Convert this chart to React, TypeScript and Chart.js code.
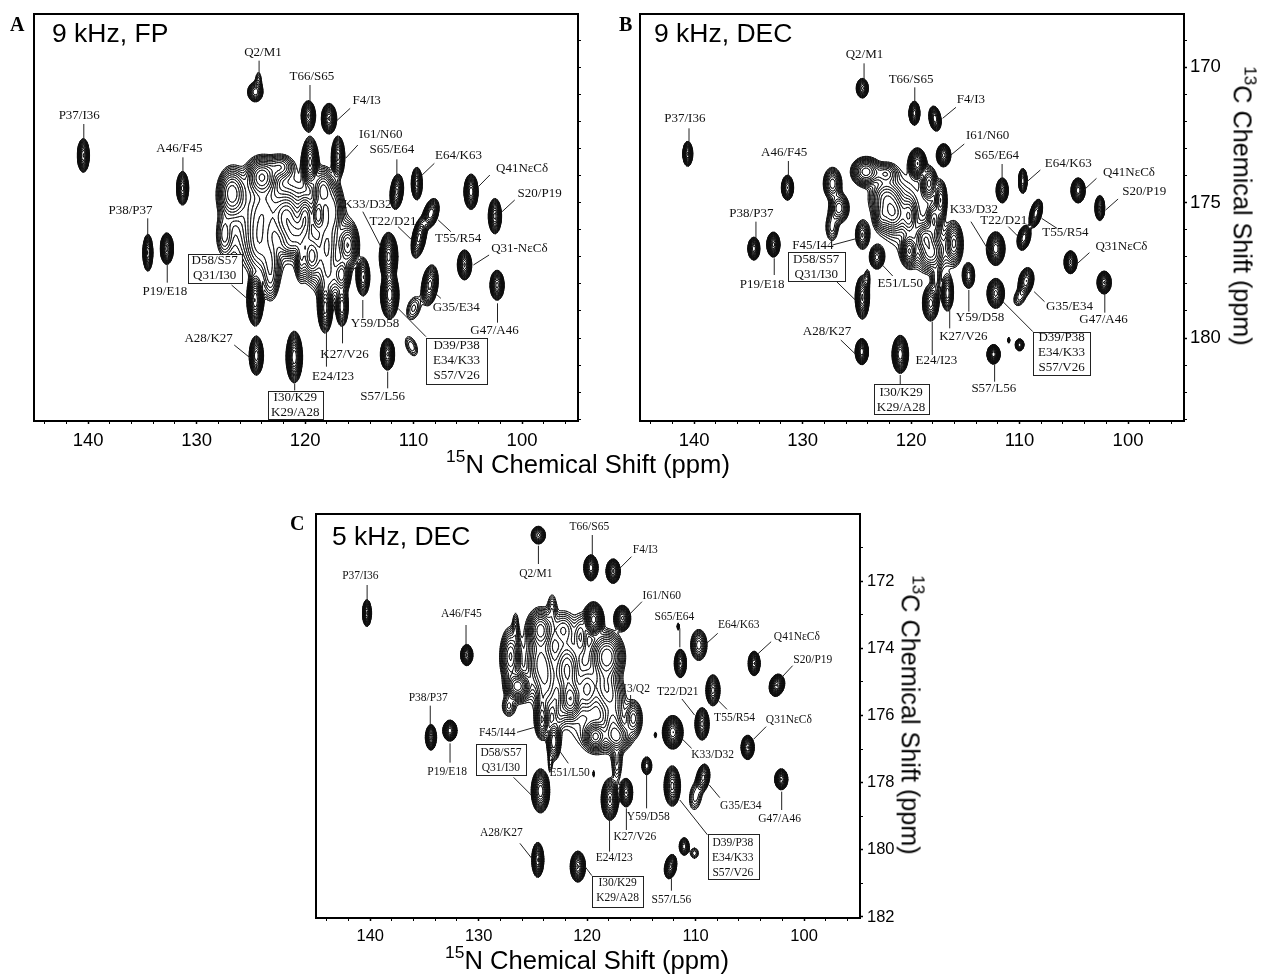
import React, { useEffect, useRef } from "react";
import { Chart, registerables } from "chart.js";

Chart.register(...registerables);

// Peak lists: [15N ppm, 13C ppm, half width N, half width C, height, slant]
type Peak = [number, number, number, number, number, number?];

const peaksA: Peak[] = [
  [124.6, 170.92, 0.7, 0.36, 7], [124.3, 170.5, 0.25, 0.3, 2],
  [119.7, 171.8, 0.65, 0.56, 14], [117.8, 171.9, 0.7, 0.56, 14],
  [140.45, 173.26, 0.55, 0.62, 14], [131.3, 174.47, 0.55, 0.62, 12],
  [116.96, 173.3, 0.6, 0.75, 12], [119.54, 173.49, 0.75, 0.9, 14],
  [111.55, 174.6, 0.6, 0.65, 12, 0.2], [109.7, 174.3, 0.5, 0.6, 10],
  [104.7, 174.6, 0.65, 0.65, 16], [102.5, 175.5, 0.6, 0.65, 12],
  [108.4, 175.4, 0.7, 0.55, 9, 0.5], [109.5, 176.3, 0.65, 0.75, 10, 0.4],
  [105.3, 177.3, 0.65, 0.55, 14], [102.3, 178.05, 0.65, 0.55, 12],
  [134.5, 176.85, 0.45, 0.68, 14], [132.75, 176.7, 0.6, 0.58, 18],
  [112.3, 177, 0.85, 0.9, 22], [112.2, 178.4, 0.85, 0.9, 16],
  [108.5, 178.05, 0.75, 0.75, 10, 0.25], [110, 178.9, 0.6, 0.42, 2.4, 0.5],
  [114.65, 177.75, 0.6, 0.68, 9], [124.5, 180.65, 0.65, 0.72, 13],
  [121, 180.7, 0.75, 0.95, 20], [112.4, 180.6, 0.65, 0.58, 14],
  [110.2, 180.3, 0.5, 0.35, 2.2, -0.7], [124.6, 178.6, 0.75, 0.95, 20],
  [118.15, 178.9, 0.65, 0.9, 12], [116.6, 178.85, 0.55, 0.7, 7],
  [126.76, 174.66, 1.38, 0.98, 8], [127.47, 176.2, 0.6, 0.65, 2.5],
  [124, 174.05, 1.5, 0.75, 10], [122.3, 173.68, 1.1, 0.4, 4],
  [123.84, 175.28, 1.3, 0.9, 3], [124.3, 176.5, 1.0, 1.0, 3.5],
  [123.2, 177.25, 0.8, 0.9, 3.5], [123.2, 178, 0.5, 0.5, 2],
  [121.7, 175.52, 1.2, 0.8, 6], [120.8, 176.13, 1.5, 0.6, 6],
  [120, 175.52, 0.7, 0.7, 6], [121.4, 176.6, 0.9, 0.3, 2.5],
  [118.34, 174.54, 1.0, 0.8, 7], [118.8, 175.46, 0.6, 0.6, 8],
  [117.4, 175.28, 0.8, 1.0, 5], [118, 176.63, 0.9, 1.1, 5],
  [116.04, 176.57, 0.95, 0.8, 8], [119.4, 177, 0.9, 0.8, 8],
  [120.4, 177.05, 0.4, 0.7, 4], [116.6, 177.67, 0.7, 0.6, 7],
  [117.8, 177.75, 1.0, 0.7, 3.5],
  [121.5, 175.5, 2.7, 1.4, 1.8], [118, 176.6, 1.9, 1.5, 2], [125, 175.8, 1.6, 1.2, 1.6],
];

const peaksB: Peak[] = [
  [124.5, 170.78, 0.55, 0.36, 8], [119.7, 171.7, 0.5, 0.44, 13],
  [117.8, 171.9, 0.55, 0.46, 11, -0.3], [140.6, 173.2, 0.45, 0.46, 12],
  [117, 173.25, 0.65, 0.42, 12], [119.42, 173.55, 0.8, 0.55, 16],
  [131.4, 174.45, 0.55, 0.46, 11], [111.6, 174.55, 0.55, 0.46, 12],
  [109.7, 174.2, 0.4, 0.46, 9], [104.6, 174.55, 0.65, 0.46, 16],
  [102.6, 175.2, 0.45, 0.46, 12], [108.5, 175.4, 0.55, 0.52, 11, 0.5],
  [109.6, 176.3, 0.6, 0.46, 11, 0.4], [112.2, 176.7, 0.85, 0.62, 16],
  [112.2, 178.35, 0.8, 0.55, 12], [109.4, 177.9, 0.7, 0.5, 9, 0.3],
  [110, 178.5, 0.5, 0.3, 2.4, 0.5], [114.7, 177.7, 0.55, 0.46, 7],
  [105.3, 177.2, 0.6, 0.42, 14], [102.2, 177.95, 0.65, 0.42, 14],
  [134.5, 176.7, 0.55, 0.42, 13], [132.7, 176.55, 0.6, 0.46, 18],
  [124.55, 180.5, 0.6, 0.48, 20], [121, 180.6, 0.75, 0.7, 20],
  [112.4, 180.6, 0.6, 0.36, 20], [110, 180.25, 0.4, 0.22, 6],
  [111, 180.08, 0.08, 0.1, 3], [124.5, 178.5, 0.65, 0.8, 14],
  [124.03, 177.8, 0.2, 0.3, 2], [118.2, 178.72, 0.75, 0.65, 10],
  [116.65, 178.35, 0.55, 0.65, 7], [117.7, 177.86, 0.35, 0.5, 2.5],
  [127.25, 174.3, 0.85, 0.6, 7], [126.64, 175.2, 0.9, 0.55, 7],
  [127.3, 175.9, 0.55, 0.5, 3], [124.5, 176.2, 0.6, 0.5, 6],
  [123.16, 177.02, 0.65, 0.42, 8], [124.18, 173.86, 1.4, 0.55, 10],
  [122.33, 173.93, 0.95, 0.35, 4], [122.33, 174.8, 1.3, 0.6, 5],
  [121.72, 175.4, 1.3, 0.7, 7], [122.8, 175.5, 0.5, 0.4, 3],
  [120.18, 175.5, 0.6, 0.6, 4], [118.34, 174.29, 0.7, 0.6, 6],
  [117.26, 174.9, 0.55, 0.7, 7], [117.9, 175.65, 0.6, 0.6, 5],
  [118.7, 176.3, 0.9, 0.5, 6], [120.18, 176.8, 0.7, 0.55, 8],
  [118.2, 176.85, 1.1, 0.6, 6], [116.04, 176.5, 0.75, 0.75, 7],
  [121, 175.2, 2.2, 1.2, 1.8], [118, 176.7, 1.9, 0.8, 2],
];

const peaksC: Peak[] = [
  [124.5, 170.63, 0.65, 0.26, 8], [119.65, 171.6, 0.65, 0.38, 16],
  [117.6, 171.7, 0.65, 0.36, 14], [140.3, 172.95, 0.4, 0.4, 12],
  [116.75, 173.1, 0.75, 0.37, 14], [119.4, 173.14, 0.9, 0.5, 18],
  [131.1, 174.2, 0.55, 0.31, 14], [111.4, 174.45, 0.55, 0.42, 14],
  [111.6, 173.35, 0.1, 0.1, 3], [109.7, 173.9, 0.75, 0.46, 7],
  [104.6, 174.45, 0.55, 0.36, 14], [102.5, 175.1, 0.7, 0.33, 14, 0.4],
  [108.4, 175.25, 0.65, 0.46, 10], [109.4, 176.25, 0.65, 0.48, 12],
  [112.1, 176.5, 0.95, 0.5, 20], [105.2, 176.95, 0.6, 0.36, 14],
  [102.1, 177.9, 0.6, 0.31, 14], [114.5, 177.5, 0.45, 0.26, 6],
  [112.15, 178.1, 0.75, 0.6, 12], [109.3, 177.85, 0.6, 0.4, 8, 0.3],
  [110, 178.4, 0.55, 0.4, 2.6, 0.3], [124.55, 180.3, 0.55, 0.52, 14],
  [120.85, 180.5, 0.7, 0.46, 14], [112.3, 180.5, 0.55, 0.36, 12, 0.4],
  [111.05, 179.9, 0.45, 0.26, 6], [110.1, 180.1, 0.35, 0.15, 2.2],
  [124.3, 178.25, 0.85, 0.65, 16], [117.9, 178.5, 0.8, 0.62, 14],
  [116.4, 178.3, 0.6, 0.42, 11], [134.4, 176.65, 0.5, 0.38, 15],
  [132.65, 176.45, 0.65, 0.31, 16], [127.07, 174.24, 0.9, 0.8, 7],
  [126.4, 175.13, 1.2, 0.45, 12], [127.23, 175.73, 0.5, 0.25, 2.5],
  [126.6, 173.39, 0.2, 0.35, 2], [124.3, 173.44, 1.2, 0.6, 9],
  [123.23, 172.85, 0.3, 0.35, 2], [124.3, 174.44, 1.1, 0.8, 5],
  [123.7, 175.13, 0.8, 0.7, 3], [121.85, 174.64, 1.1, 0.8, 6],
  [122.2, 173.44, 0.9, 0.4, 3], [121.55, 175.53, 1.0, 0.6, 9],
  [120, 175.23, 0.9, 0.6, 4], [120.6, 173.64, 0.5, 0.5, 3],
  [118.16, 174.24, 1.6, 0.75, 10], [118.35, 175.13, 1.0, 0.6, 4],
  [117.6, 175.53, 1.0, 0.6, 3], [119.24, 176.63, 1.0, 0.4, 8],
  [117.25, 176.63, 1.2, 0.4, 6], [117.6, 176.24, 0.7, 0.4, 3],
  [115.72, 176.08, 0.75, 0.5, 5], [117.25, 177.42, 0.4, 0.5, 2.5],
  [124.15, 176.18, 0.6, 0.5, 6], [123.08, 176.78, 0.6, 0.55, 7],
  [123.4, 177.4, 0.15, 0.25, 1.8], [113.72, 176.58, 0.08, 0.08, 3],
  [119.4, 177.74, 0.06, 0.08, 1.8], [124.2, 175.7, 0.3, 0.4, 2],
  [122.5, 175.92, 0.4, 0.3, 2],
  [122.5, 174.6, 3.4, 1.3, 1.8], [118.5, 176.5, 2.0, 0.55, 1.8],
];

// Contour levels: each step multiplies the previous one
const contourLevels = [1, 1.22, 1.49, 1.82, 2.22, 2.7, 3.3, 4.03, 4.91, 5.99, 7.3, 8.91, 10.87, 13.26, 16.18, 19.74];

const xTicks = [96, 98, 100, 102, 104, 106, 108, 110, 112, 114, 116, 118, 120, 122, 124, 126, 128, 130, 132, 134, 136, 138, 140, 142, 144];
const yTicksAB = [169, 170, 171, 172, 173, 174, 175, 176, 177, 178, 179, 180, 181, 182, 183];
const yTicksC = [171, 172, 173, 174, 175, 176, 177, 178, 179, 180, 181, 182];

// Annotation layout, in units of the panel's layout grid
type Note = [string, number, number, number, number, number, number];
type Box = [string[], number, number, number, number, number[], number, number, number, number];

const notesA: Note[] = [
  ["Q2/M1", 687, 157, 677, 182, 677, 232], ["T66/S65", 815, 230, 810, 255, 810, 305],
  ["F4/I3", 958, 302, 915, 325, 880, 362], ["P37/I36", 207, 347, 219, 372, 219, 425],
  ["I61/N60", 995, 405, 935, 435, 903, 475], ["A46/F45", 469, 445, 478, 472, 478, 525],
  ["S65/E64", 1024, 450, 1037, 478, 1037, 530], ["E64/K63", 1198, 467, 1135, 490, 1103, 525],
  ["Q41NεCδ", 1364, 505, 1280, 525, 1250, 560], ["S20/P19", 1410, 582, 1345, 600, 1312, 635],
  ["K33/D32", 960, 615, 948, 635, 995, 740], ["T22/D21", 1027, 665, 1040, 680, 1078, 722],
  ["T55/R54", 1197, 715, 1178, 695, 1145, 660], ["P38/P37", 341, 632, 386, 655, 386, 708],
  ["Q31-NεCδ", 1357, 747, 1278, 765, 1237, 795], ["P19/E18", 431, 875, 437, 795, 437, 848],
  ["G35/E34", 1192, 923, 1152, 895, 1120, 862], ["Y59/D58", 980, 972, 948, 900, 948, 955],
  ["G47/A46", 1292, 992, 1300, 910, 1300, 968], ["A28/K27", 545, 1015, 612, 1035, 655, 1075],
  ["K27/V26", 900, 1063, 895, 955, 895, 1030], ["E24/I23", 870, 1130, 853, 990, 853, 1100],
  ["S57/L56", 1000, 1190, 1013, 1115, 1013, 1165],
];
const boxesA: Box[] = [
  [["D58/S57", "Q31/I30"], 490, 762, 632, 850, [783, 828], 605, 855, 650, 900],
  [["D39/P38", "E34/K33", "S57/V26"], 1113, 1013, 1273, 1150, [1037, 1083, 1128], 1040, 925, 1113, 1010],
  [["I30/K29", "K29/A28"], 700, 1172, 843, 1255, [1192, 1237], 770, 1150, 770, 1172],
];

const notesB: Note[] = [
  ["Q2/M1", 612, 165, 611, 190, 611, 240], ["T66/S65", 724, 238, 733, 262, 733, 310],
  ["F4/I3", 868, 300, 832, 322, 800, 355], ["P37/I36", 180, 355, 190, 385, 190, 432],
  ["I61/N60", 908, 407, 852, 432, 820, 465], ["A46/F45", 419, 458, 429, 483, 429, 532],
  ["S65/E64", 930, 467, 943, 492, 943, 542], ["E64/K63", 1102, 490, 1035, 510, 1003, 545],
  ["Q41NεCδ", 1248, 517, 1170, 535, 1140, 570], ["S20/P19", 1285, 575, 1222, 597, 1192, 630],
  ["K33/D32", 875, 630, 868, 665, 915, 760], ["T22/D21", 947, 662, 958, 680, 982, 710],
  ["T55/R54", 1095, 698, 1075, 685, 1038, 655], ["P38/P37", 340, 640, 351, 665, 351, 718],
  ["F45/I44", 488, 738, 535, 735, 595, 715], ["Q31NεCδ", 1230, 740, 1153, 758, 1120, 795],
  ["P19/E18", 366, 853, 395, 775, 395, 825], ["E51/L50", 698, 852, 680, 828, 655, 795],
  ["Y59/D58", 890, 953, 863, 870, 863, 935], ["G35/E34", 1105, 920, 1045, 905, 1020, 875],
  ["G47/A46", 1187, 960, 1190, 880, 1190, 938], ["A28/K27", 522, 995, 555, 1020, 590, 1062],
  ["K27/V26", 850, 1010, 817, 925, 817, 985], ["E24/I23", 785, 1083, 775, 965, 775, 1065],
  ["S57/L56", 923, 1167, 925, 1095, 925, 1145],
];
const boxesB: Box[] = [
  [["D58/S57", "Q31/I30"], 427, 757, 565, 843, [778, 823], 545, 845, 590, 900],
  [["D39/P38", "E34/K33", "S57/V26"], 1017, 995, 1155, 1123, [1012, 1057, 1103], 945, 905, 1017, 995],
  [["I30/K29", "K29/A28"], 634, 1153, 766, 1243, [1178, 1223], 698, 1125, 698, 1153],
];

const notesC: Note[] = [
  ["Q2/M1", 608, 222, 614, 137, 614, 192], ["T66/S65", 735, 82, 742, 105, 742, 165],
  ["F4/I3", 868, 150, 835, 170, 805, 208], ["P37/I36", 191, 227, 207, 255, 207, 312],
  ["I61/N60", 907, 287, 860, 305, 825, 350], ["A46/F45", 431, 343, 442, 375, 442, 435],
  ["S65/E64", 937, 352, 950, 385, 950, 442], ["E64/K63", 1090, 375, 1040, 400, 1005, 440],
  ["Q41NεCδ", 1228, 410, 1167, 425, 1135, 462], ["S20/P19", 1266, 480, 1218, 497, 1190, 535],
  ["I3/Q2", 847, 567, 833, 585, 833, 625], ["T22/D21", 945, 576, 955, 597, 985, 645],
  ["P38/P37", 352, 593, 357, 617, 357, 675], ["T55/R54", 1080, 653, 1062, 628, 1040, 600],
  ["Q31NεCδ", 1209, 660, 1155, 680, 1125, 718], ["F45/I44", 516, 700, 563, 697, 605, 682],
  ["K33/D32", 1028, 765, 978, 745, 950, 710], ["P19/E18", 397, 817, 404, 730, 404, 788],
  ["E51/L50", 688, 818, 685, 790, 660, 745], ["G35/E34", 1095, 918, 1045, 893, 1020, 855],
  ["Y59/D58", 875, 952, 871, 825, 871, 925], ["G47/A46", 1187, 958, 1192, 875, 1192, 930],
  ["K27/V26", 843, 1012, 823, 925, 823, 990], ["A28/K27", 526, 1000, 570, 1030, 600, 1078],
  ["E24/I23", 794, 1073, 783, 960, 783, 1055], ["S57/L56", 930, 1200, 930, 1135, 930, 1172],
];
const boxesC: Box[] = [
  [["D58/S57", "Q31/I30"], 466, 732, 584, 826, [758, 803], 555, 832, 597, 885],
  [["D39/P38", "E34/K33", "S57/V26"], 1016, 1003, 1136, 1138, [1028, 1073, 1118], 950, 900, 1016, 1005],
  [["I30/K29", "K29/A28"], 741, 1127, 863, 1220, [1150, 1195], 725, 1100, 741, 1127],
];

function contourSegments(peaks: Peak[], xMin: number, xMax: number, yMin: number, yMax: number) {
  const dx = 0.15, dy = 0.05;
  const nx = Math.ceil((xMax - xMin) / dx) + 1;
  const ny = Math.ceil((yMax - yMin) / dy) + 1;
  const field = new Float32Array(nx * ny);
  for (const [cx, cy, rx, ry, amp, slant] of peaks) {
    const k = 1 / (2 * Math.log(amp));
    const sx2 = rx * rx * k, sy2 = ry * ry * k;
    const s = slant || 0;
    const j0 = Math.max(0, Math.floor((cy - 3 * ry - yMin) / dy));
    const j1 = Math.min(ny - 1, Math.ceil((cy + 3 * ry - yMin) / dy));
    for (let j = j0; j <= j1; j++) {
      const yy = yMin + j * dy - cy;
      const shift = cx + s * yy;
      const i0 = Math.max(0, Math.floor((shift - 3 * rx - xMin) / dx));
      const i1 = Math.min(nx - 1, Math.ceil((shift + 3 * rx - xMin) / dx));
      for (let i = i0; i <= i1; i++) {
        const xx = xMin + i * dx - shift;
        field[j * nx + i] += amp * Math.exp(-0.5 * (xx * xx / sx2 + yy * yy / sy2));
      }
    }
  }
  return contourLevels.map((level) => {
    const pts: { x: number | null; y: number | null }[] = [];
    for (let j = 0; j < ny - 1; j++) {
      const y0 = yMin + j * dy;
      for (let i = 0; i < nx - 1; i++) {
        const a = field[j * nx + i], b = field[j * nx + i + 1];
        const c = field[(j + 1) * nx + i + 1], d = field[(j + 1) * nx + i];
        const hits = (a >= level ? 1 : 0) + (b >= level ? 2 : 0) + (c >= level ? 4 : 0) + (d >= level ? 8 : 0);
        if (hits === 0 || hits === 15) continue;
        const x0 = xMin + i * dx;
        const cross: [number, number][] = [];
        if ((a >= level) !== (b >= level)) cross.push([x0 + dx * (level - a) / (b - a), y0]);
        if ((b >= level) !== (c >= level)) cross.push([x0 + dx, y0 + dy * (level - b) / (c - b)]);
        if ((d >= level) !== (c >= level)) cross.push([x0 + dx * (level - d) / (c - d), y0 + dy]);
        if ((a >= level) !== (d >= level)) cross.push([x0, y0 + dy * (level - a) / (d - a)]);
        for (let n = 0; n + 1 < cross.length; n += 2) {
          pts.push({ x: cross[n][0], y: cross[n][1] }, { x: cross[n + 1][0], y: cross[n + 1][1] }, { x: null, y: null });
        }
      }
    }
    return pts;
  });
}

type PanelProps = {
  left: number; top: number; width: number; height: number;
  pad: { left: number; right: number; top: number; bottom: number };
  yWidth: number; yPad: number;
  xRange: [number, number]; yRange: [number, number];
  yTicks: number[]; yLabels: number[];
  peaks: Peak[]; notes: Note[]; boxes: Box[];
  grid: { ox: number; oy: number; sx: number };
  fontSize: number;
  tickFont: { family: string; size: number };
};

function Panel(p: PanelProps) {
  const ref = useRef<HTMLCanvasElement | null>(null);
  useEffect(() => {
    const tx = (v: number) => p.grid.ox + v / p.grid.sx - p.left;
    const ty = (v: number) => p.grid.oy + v / 3 - p.top;
    const annotate = {
      id: "annotate",
      afterDatasetsDraw(chart: any) {
        const ctx = chart.ctx as CanvasRenderingContext2D;
        const a = chart.chartArea;
        ctx.save();
        ctx.strokeStyle = "#000";
        ctx.lineWidth = 2;
        ctx.strokeRect(a.left, a.top, a.right - a.left, a.bottom - a.top);
        ctx.lineWidth = 1;
        ctx.strokeStyle = "#222";
        ctx.fillStyle = "#111";
        ctx.font = `${p.fontSize}px 'Liberation Serif'`;
        ctx.textAlign = "center";
        ctx.textBaseline = "middle";
        for (const [text, cx, cy, x1, y1, x2, y2] of p.notes) {
          ctx.beginPath();
          ctx.moveTo(tx(x1), ty(y1));
          ctx.lineTo(tx(x2), ty(y2));
          ctx.stroke();
          ctx.fillText(text, tx(cx), ty(cy));
        }
        for (const [lines, x1, y1, x2, y2, ys, lx1, ly1, lx2, ly2] of p.boxes) {
          ctx.beginPath();
          ctx.moveTo(tx(lx1), ty(ly1));
          ctx.lineTo(tx(lx2), ty(ly2));
          ctx.stroke();
          ctx.fillStyle = "#fff";
          ctx.fillRect(tx(x1), ty(y1), tx(x2) - tx(x1), ty(y2) - ty(y1));
          ctx.fillStyle = "#111";
          ctx.strokeRect(Math.round(tx(x1)) + 0.5, Math.round(ty(y1)) + 0.5, Math.round(tx(x2) - tx(x1)), Math.round(ty(y2) - ty(y1)));
          lines.forEach((t, i) => ctx.fillText(t, (tx(x1) + tx(x2)) / 2, ty(ys[i])));
        }
        ctx.restore();
      },
    };
    const levels = contourSegments(p.peaks, 94.8, 145, p.yRange[0], p.yRange[1]);
    const chart = new Chart(ref.current as HTMLCanvasElement, {
      type: "scatter",
      data: {
        datasets: levels.map((data, i) => ({
          label: `level ${contourLevels[i]}`,
          data,
          showLine: true,
          pointRadius: 0,
          borderColor: "#0c0c0c",
          borderWidth: 0.9,
          borderDash: [1000000, 0],
          borderCapStyle: "round",
          spanGaps: false,
        })),
      } as any,
      options: {
        animation: false,
        responsive: false,
        events: [],
        layout: { padding: p.pad },
        plugins: { legend: { display: false }, tooltip: { enabled: false }, title: { display: false } },
        scales: {
          x: {
            type: "linear",
            position: "bottom",
            reverse: true,
            min: p.xRange[0],
            max: p.xRange[1],
            afterFit: (s: any) => { s.height = 29; s.paddingLeft = 0; s.paddingRight = 0; },
            afterBuildTicks: (s: any) => { s.ticks = xTicks.map((value) => ({ value })); },
            border: { display: false },
            grid: {
              drawOnChartArea: false,
              tickLength: 3,
              tickColor: "#000",
              tickWidth: (c: any) => (c.tick && c.tick.value % 10 === 0 ? 1.5 : 1),
            },
            ticks: {
              autoSkip: false,
              maxRotation: 0,
              padding: 6,
              color: "#000",
              font: p.tickFont,
              callback: (v: any) => (Number(v) % 10 === 0 ? String(v) : ""),
            },
          },
          y: {
            type: "linear",
            position: "right",
            reverse: true,
            min: p.yRange[0],
            max: p.yRange[1],
            afterFit: (s: any) => { s.width = p.yWidth; s.paddingTop = 0; s.paddingBottom = 0; },
            afterBuildTicks: (s: any) => { s.ticks = p.yTicks.map((value) => ({ value })); },
            border: { display: false },
            grid: {
              drawOnChartArea: false,
              tickLength: 3,
              tickColor: "#000",
              tickWidth: (c: any) => (c.tick && p.yLabels.includes(c.tick.value) ? 1.5 : 1),
            },
            ticks: {
              autoSkip: false,
              padding: p.yPad,
              color: "#000",
              font: p.tickFont,
              callback: (v: any) => (p.yLabels.includes(Number(v)) ? String(v) : ""),
            },
          },
        },
      },
      plugins: [annotate],
    } as any);
    return () => chart.destroy();
  }, []);
  return (
    <canvas
      ref={ref}
      width={p.width}
      height={p.height}
      style={{ position: "absolute", left: p.left, top: p.top, width: p.width, height: p.height }}
    />
  );
}

const sans = "'Liberation Sans', sans-serif";
const serif = "'Liberation Serif', serif";
const wideTicks = { family: "'Liberation Sans'", size: 18.5 };
const narrowTicks = { family: "'Liberation Sans'", size: 16.5 };

function Abs({ x, y, size, family, bold, children }: any) {
  return (
    <div style={{ position: "absolute", left: x, top: y, fontFamily: family, fontSize: size, fontWeight: bold ? 700 : 400, lineHeight: 1, whiteSpace: "nowrap", color: "#000" }}>
      {children}
    </div>
  );
}

function AxisTitle({ iso, atom, rest, cx, cy, rotate, size }: any) {
  return (
    <div style={{ position: "absolute", left: cx, top: cy, transform: `translate(-50%,-50%)${rotate ? " rotate(90deg)" : ""}`, fontFamily: sans, fontSize: size, lineHeight: 1, whiteSpace: "nowrap", color: "#000" }}>
      <span style={{ fontSize: size * 0.68, position: "relative", top: -11 }}>{iso}</span>
      {atom}{rest}
    </div>
  );
}

export default function App() {
  return (
    <div style={{ position: "absolute", left: 0, top: 0, width: 1262, height: 975, overflow: "hidden", background: "#fff" }}>
      <Panel left={0} top={0} width={620} height={460} pad={{ left: 34, right: 4, top: 14, bottom: 10 }} yWidth={38} yPad={2}
        xRange={[94.84, 145]} yRange={[168.04, 183.06]} yTicks={yTicksAB} yLabels={[]}
        peaks={peaksA} notes={notesA} boxes={boxesA} grid={{ ox: 0, oy: 0, sx: 2.613 }} fontSize={13} tickFont={wideTicks} />
      <Panel left={620} top={0} width={642} height={460} pad={{ left: 20, right: 38, top: 14, bottom: 10 }} yWidth={40} yPad={3}
        xRange={[94.84, 145]} yRange={[168.04, 183.06]} yTicks={yTicksAB} yLabels={[170, 175, 180]}
        peaks={peaksB} notes={notesB} boxes={boxesB} grid={{ ox: 610, oy: 0, sx: 2.405 }} fontSize={13} tickFont={wideTicks} />
      <Panel left={290} top={500} width={640} height={475} pad={{ left: 26, right: 10, top: 14, bottom: 28 }} yWidth={60} yPad={4}
        xRange={[94.84, 145]} yRange={[170, 182.03]} yTicks={yTicksC} yLabels={[172, 174, 176, 178, 180, 182]}
        peaks={peaksC} notes={notesC} boxes={boxesC} grid={{ ox: 280, oy: 500, sx: 2.376 }} fontSize={11.5} tickFont={narrowTicks} />
      <Abs x={10} y={14} size={20} family={serif} bold>A</Abs>
      <Abs x={619} y={14} size={20} family={serif} bold>B</Abs>
      <Abs x={290} y={513} size={20} family={serif} bold>C</Abs>
      <Abs x={52} y={20} size={26.5} family={sans}>9 kHz, FP</Abs>
      <Abs x={654} y={20} size={26.5} family={sans}>9 kHz, DEC</Abs>
      <Abs x={332} y={523} size={26.5} family={sans}>5 kHz, DEC</Abs>
      <AxisTitle iso="15" atom="N" rest=" Chemical Shift (ppm)" cx={588} cy={465} size={25.6} />
      <AxisTitle iso="15" atom="N" rest=" Chemical Shift (ppm)" cx={587} cy={961} size={25.6} />
      <AxisTitle iso="13" atom="C" rest=" Chemical Shift (ppm)" cx={1242} cy={206} size={25.2} rotate />
      <AxisTitle iso="13" atom="C" rest=" Chemical Shift (ppm)" cx={910} cy={715} size={25.2} rotate />
    </div>
  );
}
